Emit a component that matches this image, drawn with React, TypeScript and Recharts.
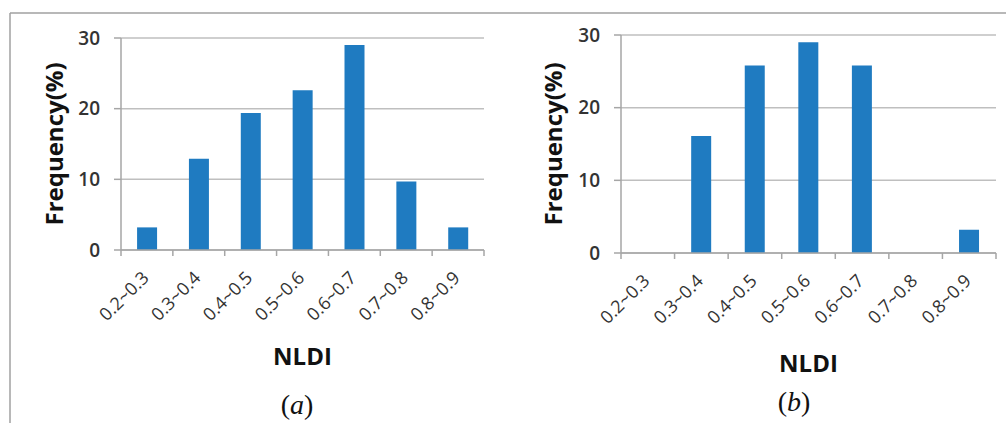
import React from 'react';
import { BarChart, Bar, XAxis, YAxis, CartesianGrid } from 'recharts';

const categories = ['0.2~0.3', '0.3~0.4', '0.4~0.5', '0.5~0.6', '0.6~0.7', '0.7~0.8', '0.8~0.9'];
const freqA = [3.2, 12.9, 19.4, 22.6, 29.0, 9.7, 3.2];
const freqB = [0, 16.1, 25.8, 29.0, 25.8, 0, 3.2];
const yTicks = [0, 10, 20, 30];
const yLabel = 'Frequency(%)';
const xLabel = 'NLDI';

const dataA = categories.map((c, i) => ({ cat: c, v: freqA[i] }));
const dataB = categories.map((c, i) => ({ cat: c, v: freqB[i] }));

const AXIS = '#a6a6a6';
const GRID = '#bfbfbf';
const BAR = '#1f7bc1';
const FONT = '"Open Sans", "Noto Sans", sans-serif';

const XTick = (props: any) => {
  const { x, y, payload, index, visibleTicksCount } = props;
  const off = payload && typeof payload.offset === 'number' ? payload.offset : 26;
  const count = visibleTicksCount ?? categories.length;
  const last = index === count - 1;
  const tx = x + 3;
  const ty = y + 29;
  return (
    <g>
      <line x1={x - off} x2={x - off} y1={y} y2={y + 6} stroke={AXIS} strokeWidth={1.5} />
      {last && <line x1={x + off} x2={x + off} y1={y} y2={y + 6} stroke={AXIS} strokeWidth={1.5} />}
      <text
        x={tx}
        y={ty}
        textAnchor="end"
        transform={`rotate(-45 ${tx} ${ty})`}
        fontSize={18}
        fill="#333"
        fontFamily={FONT}
      >
        {payload.value}
      </text>
    </g>
  );
};

const Chart = ({ data, margin, labelOffsetY, labelOffsetX }: any) => (
  <BarChart
    width={margin.w}
    height={423}
    data={data}
    margin={{ top: margin.top, right: margin.right, bottom: margin.bottom, left: 0 }}
    barCategoryGap="31%"
  >
    <CartesianGrid vertical={false} stroke={GRID} strokeWidth={1.5} />
    <XAxis
      dataKey="cat"
      height={120}
      interval={0}
      tickLine={false}
      tickSize={0}
      tickMargin={0}
      axisLine={{ stroke: AXIS, strokeWidth: 1.5 }}
      tick={<XTick />}
      label={{
        value: xLabel,
        position: 'insideBottom',
        offset: labelOffsetX,
        style: { fontSize: 24, fontWeight: 700, fill: '#111', fontFamily: FONT },
      }}
    />
    <YAxis
      width={121}
      domain={[0, 30]}
      ticks={yTicks}
      tickSize={7}
      tickMargin={14}
      axisLine={{ stroke: AXIS, strokeWidth: 1.5 }}
      tickLine={{ stroke: AXIS, strokeWidth: 1.5 }}
      tick={{ fontSize: 19, fontWeight: 600, fill: '#333', fontFamily: FONT }}
      label={{
        value: yLabel,
        angle: -90,
        position: 'insideLeft',
        offset: labelOffsetY,
        style: { textAnchor: 'middle', fontSize: 24, fontWeight: 700, fill: '#111', fontFamily: FONT },
      }}
    />
    <Bar dataKey="v" fill={BAR} isAnimationActive={false} />
  </BarChart>
);

export default function App() {
  return (
    <div style={{ position: 'absolute', left: 0, top: 0, width: 1006, height: 423, background: '#fff', overflow: 'hidden' }}>
      <svg width={1006} height={423} style={{ position: 'absolute', left: 0, top: 0 }}>
        <line x1={10} x2={1006} y1={13} y2={13} stroke="#a0a0a0" strokeWidth={1.5} />
        <line x1={10} x2={10} y1={13} y2={423} stroke="#a0a0a0" strokeWidth={1.5} />
        <text x={297} y={414} textAnchor="middle" fontSize={28} fontFamily='"Liberation Serif", serif' fill="#111">
          (<tspan fontStyle="italic">a</tspan>)
        </text>
        <text x={794} y={411} textAnchor="middle" fontSize={28} fontFamily='"Liberation Serif", serif' fill="#111">
          (<tspan fontStyle="italic">b</tspan>)
        </text>
      </svg>
      <div style={{ position: 'absolute', left: 0, top: 0 }}>
        <Chart data={dataA} margin={{ w: 500, top: 38, right: 16, bottom: 53 }} labelOffsetY={54} labelOffsetX={5} />
      </div>
      <div style={{ position: 'absolute', left: 500, top: 0 }}>
        <Chart data={dataB} margin={{ w: 506, top: 35, right: 10, bottom: 50 }} labelOffsetY={53} labelOffsetX={1} />
      </div>
    </div>
  );
}
